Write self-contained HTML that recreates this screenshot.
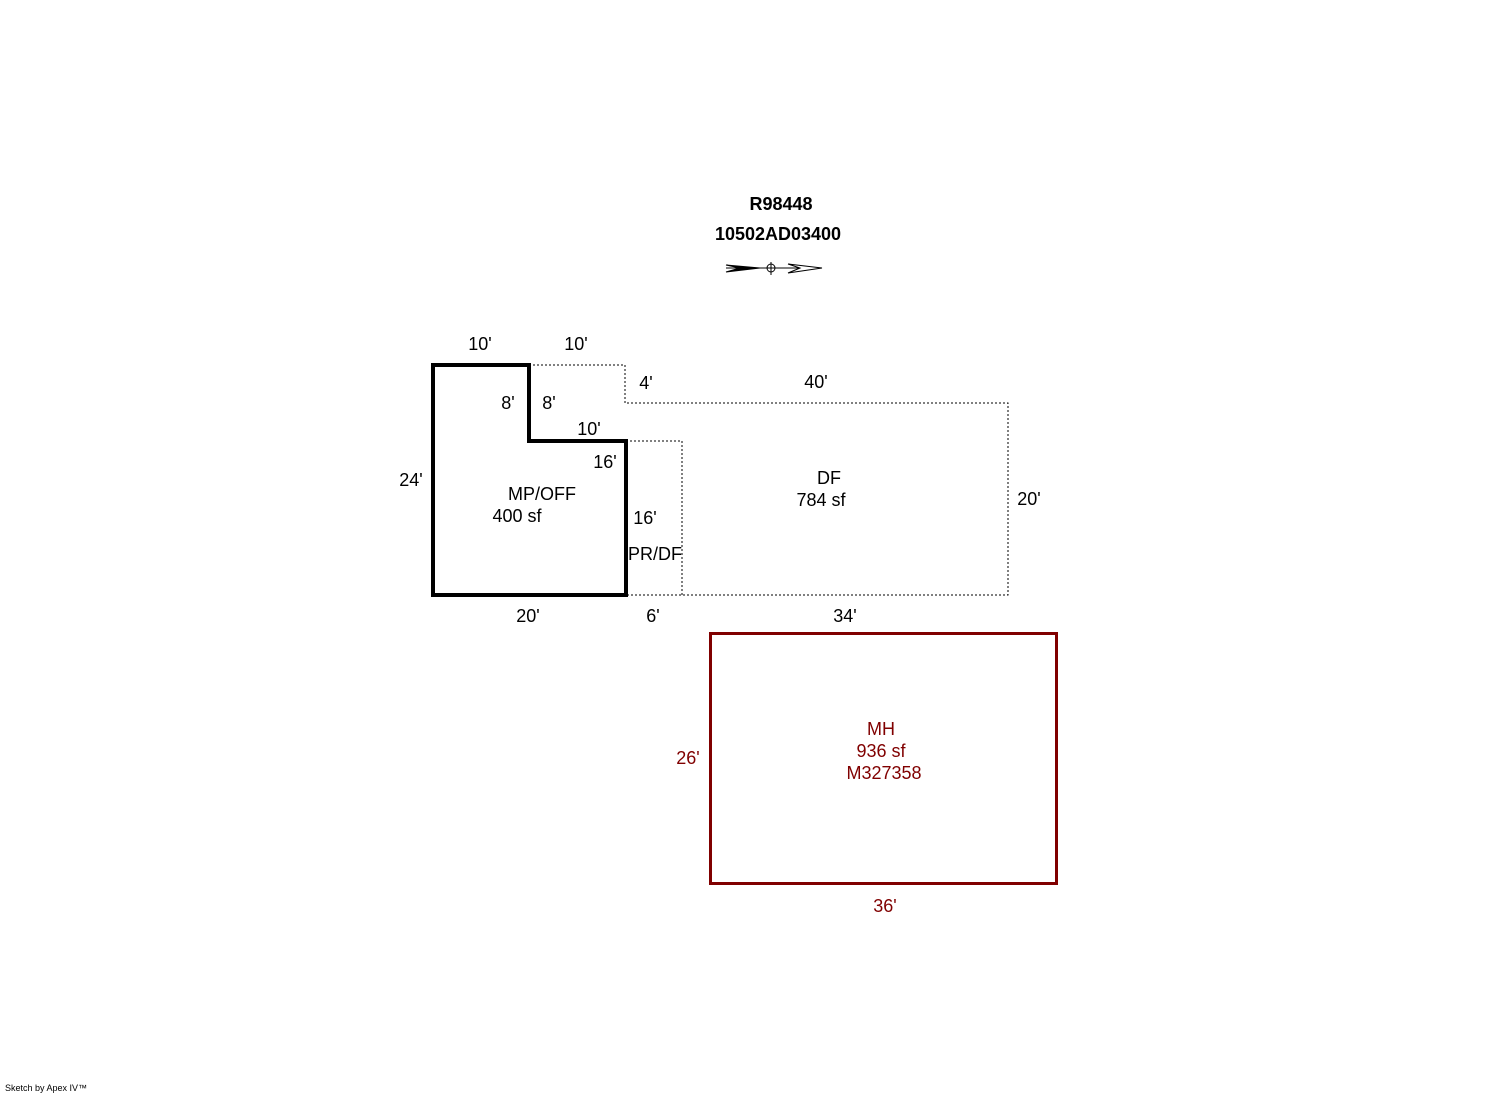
<!DOCTYPE html>
<html><head><style>
body{margin:0;background:#fff;}
svg{display:block;}
text{font-family:"Liberation Sans",sans-serif;font-size:18px;}
</style></head><body>
<svg width="1492" height="1094" viewBox="0 0 1492 1094" xmlns="http://www.w3.org/2000/svg">
<text x="781" y="210" text-anchor="middle" font-weight="bold">R98448</text>
<text x="778" y="240" text-anchor="middle" font-weight="bold">10502AD03400</text>
<g stroke="#000" stroke-width="1">
<polygon points="726,265 760,268 726,272 740,268" fill="#000"/>
<line x1="726" y1="268" x2="822" y2="268"/>
<circle cx="771" cy="268" r="4" fill="none"/>
<line x1="771" y1="262" x2="771" y2="275"/>
<polygon points="788,264 822,268 788,273 800,268" fill="#fff"/>
</g>
<g fill="none" stroke="#000" stroke-width="1" stroke-dasharray="2,2">
<polyline points="529,365 625,365 625,403 1008,403 1008,595 626,595"/>
<polyline points="626,441 682,441 682,595"/>
</g>
<polygon points="433,365 529,365 529,441 626,441 626,595 433,595" fill="none" stroke="#000" stroke-width="4"/>
<rect x="710.5" y="633.5" width="346" height="250" fill="none" stroke="#800000" stroke-width="3"/>
<g text-anchor="middle">
<text x="480" y="350">10'</text>
<text x="576" y="350">10'</text>
<text x="646" y="389">4'</text>
<text x="816" y="388">40'</text>
<text x="508" y="409">8'</text>
<text x="549" y="409">8'</text>
<text x="589" y="435">10'</text>
<text x="605" y="468">16'</text>
<text x="411" y="486">24'</text>
<text x="542" y="500">MP/OFF</text>
<text x="517" y="522">400 sf</text>
<text x="829" y="484">DF</text>
<text x="821" y="506">784 sf</text>
<text x="1029" y="505">20'</text>
<text x="645" y="524">16'</text>
<text x="655" y="560">PR/DF</text>
<text x="528" y="622">20'</text>
<text x="653" y="622">6'</text>
<text x="845" y="622">34'</text>
</g>
<g text-anchor="middle" fill="#800000">
<text x="881" y="735">MH</text>
<text x="881" y="757">936 sf</text>
<text x="884" y="779">M327358</text>
<text x="688" y="764">26'</text>
<text x="885" y="912">36'</text>
</g>
<text x="5" y="1091" style="font-size:9px">Sketch by Apex IV™</text>
</svg>
</body></html>
